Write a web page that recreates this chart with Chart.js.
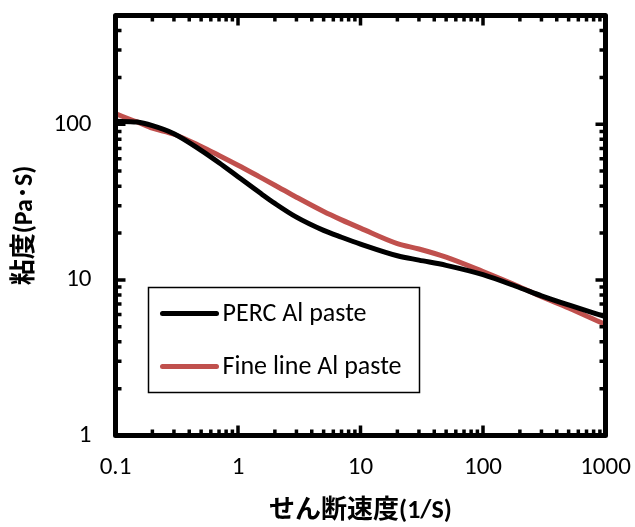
<!DOCTYPE html>
<html>
<head>
<meta charset="utf-8">
<script src="https://cdn.jsdelivr.net/npm/chart.js@4/dist/chart.umd.min.js"></script>
<style>
  html, body { margin: 0; padding: 0; background: #fff; }
  #wrap { width: 635px; height: 527px; }
</style>
</head>
<body>
<div id="wrap"><canvas id="viscChart" width="635" height="527"></canvas></div>
<script>
// shear rate (1/S) and viscosity (Pa·S) readings
const shearRate = [0.1, 0.15, 0.2, 0.3, 0.5, 0.7, 1, 1.5, 2, 3, 5, 7, 10, 20, 30, 50, 100, 200, 300, 500, 1000];
const percPaste = [104.5, 103.3, 98, 87, 68, 56.6, 46, 36.4, 31, 25.3, 20.8, 18.8, 17, 14.3, 13.4, 12.4, 10.8, 8.9, 7.9, 6.9, 5.8];
const fineLinePaste = [116.7, 103.5, 94.3, 86.3, 72, 63, 54.5, 45.9, 40.6, 34, 27.5, 24.3, 21.5, 17.1, 15.8, 14, 11.3, 9, 7.8, 6.6, 5.15];

const seriesNames = ['PERC Al paste', 'Fine line Al paste'];
const seriesColors = ['#000000', '#C0504D'];

const xTickLabels = [0.1, 1, 10, 100, 1000];
const yTickLabels = [1, 10, 100];
const yMax = 500;

const FONT = "Carlito, Lato, 'Noto Sans CJK JP', sans-serif";

// box frame, inward log ticks on all four sides
const framePlugin = {
  id: 'frame',
  afterDraw(chart) {
    const { ctx, chartArea: a, scales } = chart;
    ctx.save();
    ctx.strokeStyle = '#000';
    ctx.lineCap = 'butt';
    ctx.lineWidth = 3.5;
    const minorLen = 6, majorLen = 10;

    const decadeValues = (min, max) => {
      const out = [];
      for (let d = Math.floor(Math.log10(min)); d <= Math.ceil(Math.log10(max)); d++) {
        for (let k = 1; k <= 9; k++) {
          const v = k * Math.pow(10, d);
          if (v >= min * 0.999 && v <= max * 1.001) out.push({ v, major: k === 1 });
        }
      }
      return out;
    };

    const xs = scales.x;
    decadeValues(xs.min, xs.max).forEach(t => {
      const px = xs.getPixelForValue(t.v);
      const len = t.major ? majorLen : minorLen;
      ctx.beginPath();
      ctx.moveTo(px, a.bottom); ctx.lineTo(px, a.bottom - len);
      ctx.moveTo(px, a.top); ctx.lineTo(px, a.top + len);
      ctx.stroke();
    });
    const ys = scales.y;
    decadeValues(ys.min, ys.max).forEach(t => {
      const py = ys.getPixelForValue(t.v);
      const len = t.major ? majorLen : minorLen;
      ctx.beginPath();
      ctx.moveTo(a.left, py); ctx.lineTo(a.left + len, py);
      ctx.moveTo(a.right, py); ctx.lineTo(a.right - len, py);
      ctx.stroke();
    });

    ctx.lineWidth = 5;
    ctx.lineJoin = 'round';
    ctx.strokeRect(a.left, a.top, a.right - a.left, a.bottom - a.top);
    ctx.restore();
  }
};

// boxed legend inside the plot area
const boxLegendPlugin = {
  id: 'boxLegend',
  afterDraw(chart, args, opts) {
    const { ctx, chartArea: a } = chart;
    const left = a.left + opts.offsetX, top = a.top + opts.offsetY;
    ctx.save();
    ctx.fillStyle = '#fff';
    ctx.fillRect(left, top, opts.width, opts.height);
    ctx.strokeStyle = '#000';
    ctx.lineWidth = 1.5;
    ctx.strokeRect(left, top, opts.width, opts.height);
    ctx.font = opts.font;
    ctx.textBaseline = 'middle';
    chart.data.datasets.forEach((ds, i) => {
      const y = top + opts.firstRow + i * opts.rowGap;
      ctx.strokeStyle = ds.borderColor;
      ctx.lineWidth = 5;
      ctx.lineCap = 'round';
      ctx.beginPath();
      ctx.moveTo(left + 14, y);
      ctx.lineTo(left + 68, y);
      ctx.stroke();
      ctx.fillStyle = '#000';
      ctx.fillText(ds.label, left + 74, y + 1);
    });
    ctx.restore();
  }
};

const ctx = document.getElementById('viscChart').getContext('2d');
new Chart(ctx, {
  type: 'line',
  data: {
    datasets: [
      {
        label: seriesNames[0],
        data: shearRate.map((x, i) => ({ x, y: percPaste[i] })),
        borderColor: seriesColors[0],
        borderWidth: 5,
        pointRadius: 0,
        cubicInterpolationMode: 'monotone',
        fill: false
      },
      {
        label: seriesNames[1],
        data: shearRate.map((x, i) => ({ x, y: fineLinePaste[i] })),
        borderColor: seriesColors[1],
        borderWidth: 5,
        pointRadius: 0,
        cubicInterpolationMode: 'monotone',
        fill: false
      }
    ]
  },
  options: {
    responsive: false,
    animation: false,
    layout: { padding: { left: 0, right: 29.5, top: 15.5, bottom: 0 } },
    scales: {
      x: {
        type: 'logarithmic',
        min: 0.1,
        max: 1000,
        afterFit(scale) {
          scale.height = 91.5;
          scale.paddingLeft = 0;
          scale.paddingRight = 0;
        },
        afterBuildTicks(scale) { scale.ticks = xTickLabels.map(v => ({ value: v })); },
        grid: { display: false, drawTicks: false },
        border: { display: false },
        ticks: {
          autoSkip: false,
          maxRotation: 0,
          padding: 17,
          color: '#000',
          font: { family: FONT, size: 25 },
          callback: v => String(v)
        },
        title: {
          display: true,
          text: 'せん断速度(1/S)',
          color: '#000',
          font: { family: FONT, size: 26, weight: 'bold' },
          padding: { top: 0, bottom: 0 }
        }
      },
      y: {
        type: 'logarithmic',
        min: 1,
        max: yMax,
        afterFit(scale) {
          scale.width = 115.5;
          scale.paddingTop = 0;
          scale.paddingBottom = 0;
        },
        afterBuildTicks(scale) { scale.ticks = yTickLabels.map(v => ({ value: v })); },
        grid: { display: false, drawTicks: false },
        border: { display: false },
        ticks: {
          autoSkip: false,
          padding: 24,
          color: '#000',
          font: { family: FONT, size: 25 },
          callback: v => String(v)
        },
        title: {
          display: true,
          text: '粘度(Pa･S)',
          color: '#000',
          font: { family: FONT, size: 26, weight: 'bold' },
          padding: { top: 10, bottom: 0 }
        }
      }
    },
    plugins: {
      legend: { display: false },
      tooltip: { enabled: false },
      boxLegend: {
        offsetX: 33, offsetY: 272, width: 271, height: 105,
        firstRow: 26, rowGap: 53,
        font: "26px " + FONT
      }
    }
  },
  plugins: [framePlugin, boxLegendPlugin]
});
</script>
</body>
</html>
